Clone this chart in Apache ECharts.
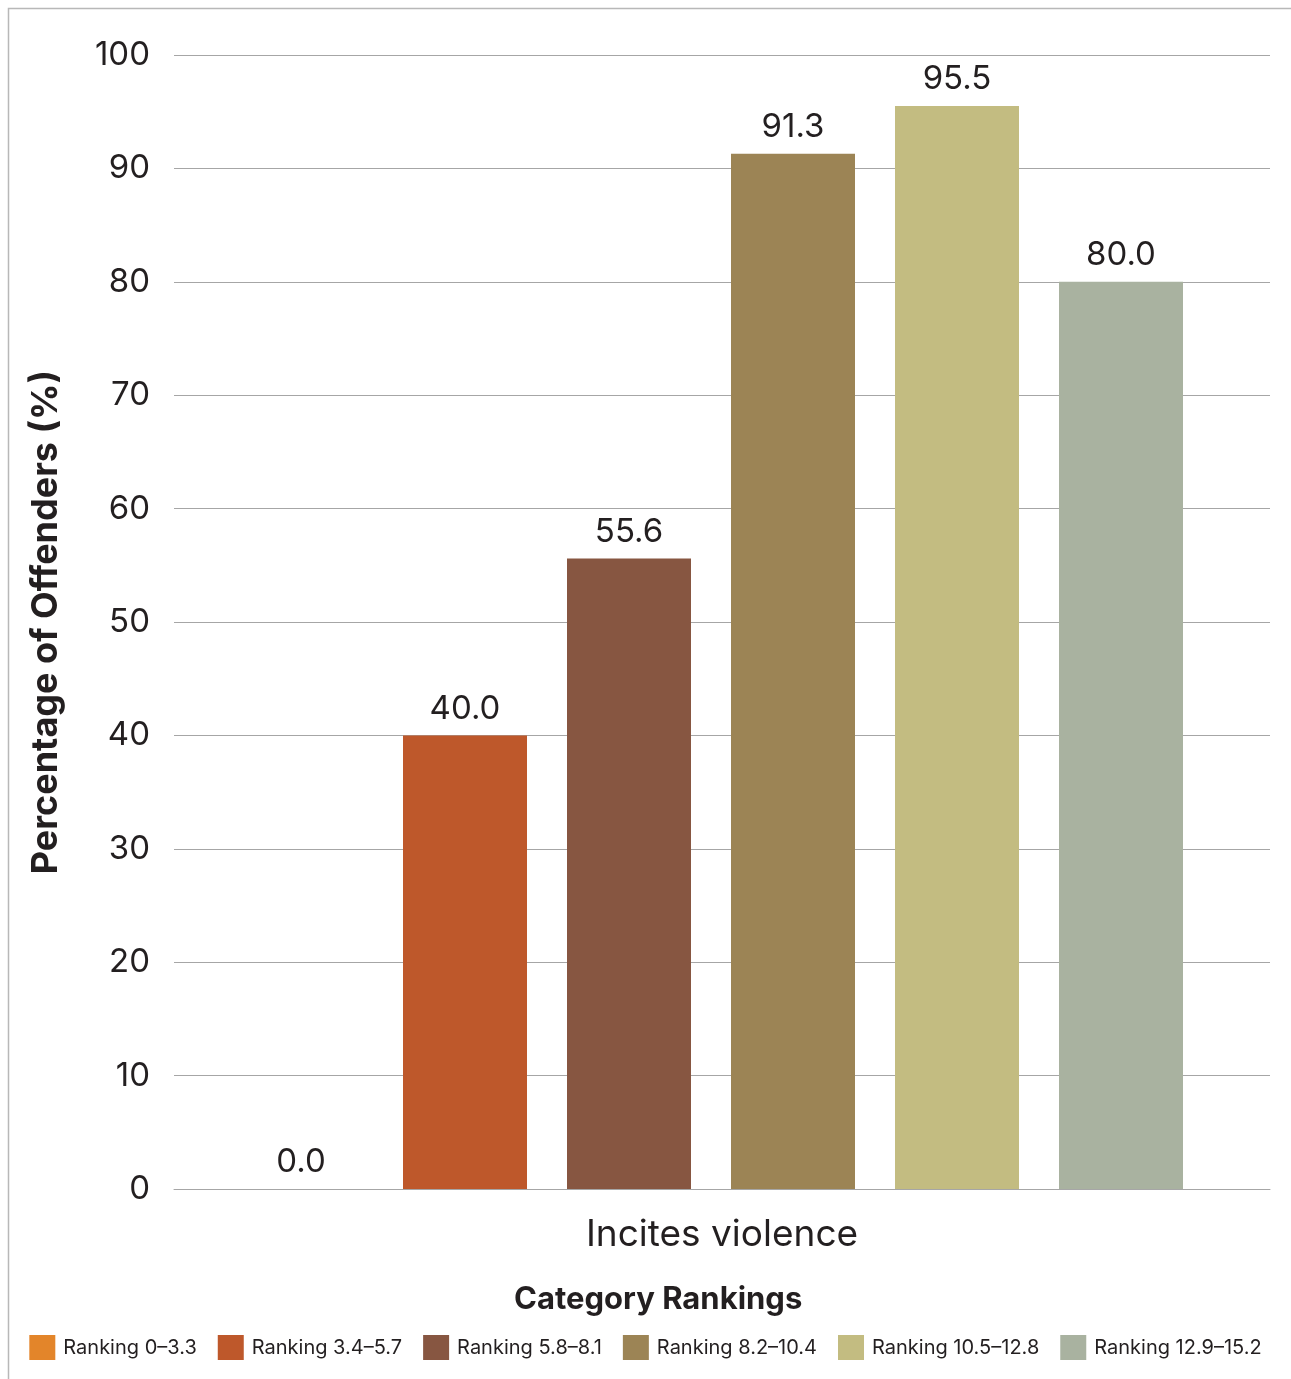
<!DOCTYPE html>
<html>
<head>
<meta charset="utf-8">
<style>
  html, body { margin: 0; padding: 0; background: #fff; }
  #chart { width: 1291px; height: 1379px; }
</style>
<script src="https://cdn.jsdelivr.net/npm/echarts@6/dist/echarts.min.js"></script>
</head>
<body>
<div id="chart"></div>
<script>
// Share of offenders that incite violence, by category ranking band
const categories = ['Incites violence'];
const rankingBands = ['Ranking 0–3.3', 'Ranking 3.4–5.7', 'Ranking 5.8–8.1', 'Ranking 8.2–10.4', 'Ranking 10.5–12.8', 'Ranking 12.9–15.2'];
const bandValues = [0.0, 40.0, 55.6, 91.3, 95.5, 80.0];
const bandColors = ['#E3852A', '#BE582B', '#875641', '#9C8455', '#C3BC81', '#A9B2A0'];
const yTicks = { min: 0, max: 100, interval: 10 };

const FONT = 'Inter, "Noto Sans", sans-serif';
const TEXT = '#231f20';

const chart = echarts.init(document.getElementById('chart'), null, { renderer: 'canvas' });

const series = rankingBands.map((name, i) => ({
  name,
  type: 'bar',
  xAxisIndex: 1,
  yAxisIndex: 1,
  data: [bandValues[i]],
  barWidth: 124,
  barGap: (40 / 124 * 100) + '%',
  itemStyle: { color: bandColors[i] },
  label: {
    show: true,
    position: 'top',
    distance: 10,
    formatter: (p) => p.value.toFixed(1),
    fontFamily: FONT,
    fontSize: 33,
    color: TEXT
  }
}));

chart.setOption({
  animation: false,
  backgroundColor: '#fff',
  grid: [
    // axes, gridlines and labels
    { left: 174, right: 21, top: 55, bottom: 190 },
    // bar group, placed slightly left of the category centre
    { left: 163, right: 32, top: 55, bottom: 190 }
  ],
  xAxis: [
    {
      gridIndex: 0,
      type: 'category',
      data: categories,
      axisLine: { show: true, lineStyle: { color: '#a6a6a6', width: 1 } },
      axisTick: { show: false },
      axisLabel: { fontFamily: FONT, fontSize: 37, color: TEXT, margin: 27 }
    },
    {
      gridIndex: 1,
      type: 'category',
      data: categories,
      show: false
    }
  ],
  yAxis: [
    {
      gridIndex: 0,
      type: 'value',
      min: yTicks.min,
      max: yTicks.max,
      interval: yTicks.interval,
      name: 'Percentage of Offenders (%)',
      nameLocation: 'middle',
      nameGap: 110,
      nameRotate: 90,
      nameTextStyle: { fontFamily: FONT, fontSize: 36, fontWeight: 'bold', color: TEXT },
      axisLine: { show: false },
      axisTick: { show: false },
      axisLabel: { fontFamily: FONT, fontSize: 33, color: TEXT, margin: 24, padding: [9, 0, 0, 0] },
      splitLine: { show: true, lineStyle: { color: '#a6a6a6', width: 1 } }
    },
    {
      gridIndex: 1,
      type: 'value',
      min: yTicks.min,
      max: yTicks.max,
      interval: yTicks.interval,
      show: false,
      splitLine: { show: false }
    }
  ],
  title: {
    text: 'Category Rankings',
    left: 509,
    top: 1279,
    textStyle: { fontFamily: FONT, fontSize: 31, fontWeight: 'bold', color: TEXT }
  },
  legend: {
    data: rankingBands,
    left: 'center',
    top: 1330,
    icon: 'rect',
    itemWidth: 26,
    itemHeight: 25,
    itemGap: 21,
    textStyle: { fontFamily: FONT, fontSize: 20, color: TEXT, padding: [0, 0, 0, 3] },
    selectedMode: false
  },
  graphic: [
    {
      type: 'polyline',
      shape: { points: [[8.5, 1379], [8.5, 8.5], [1291, 8.5]] },
      style: { stroke: '#b8b8b8', lineWidth: 1.5, fill: null },
      silent: true
    }
  ],
  series
});
</script>
</body>
</html>
